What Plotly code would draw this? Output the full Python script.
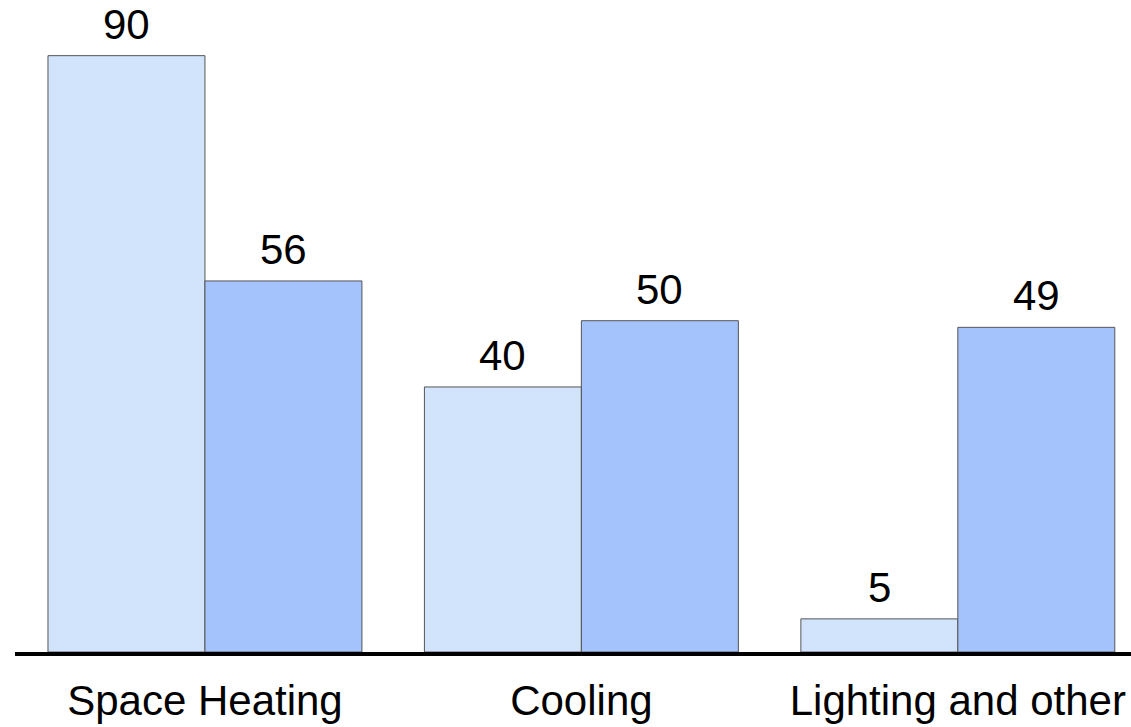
import plotly.graph_objects as go

categories = ["Space Heating", "Cooling", "Lighting and other"]
series_a = [90, 40, 5]
series_b = [56, 50, 49]

light = "#d2e4fc"
mid = "#a4c2fc"
outline = "#555555"
font_family = "Liberation Sans, Arial"

fig = go.Figure()
for vals, col in [(series_a, light), (series_b, mid)]:
    fig.add_trace(go.Bar(
        x=categories, y=vals,
        marker=dict(color=col, line=dict(color=outline, width=1)),
        cliponaxis=False,
    ))

half_bar_px = 78.5
for vals, shift in [(series_a, -half_bar_px), (series_b, half_bar_px)]:
    for c, v in zip(categories, vals):
        fig.add_annotation(
            x=c, y=v, xref="x", yref="y", text=str(v), showarrow=False,
            xshift=shift, yshift=6, yanchor="bottom",
            font=dict(family=font_family, size=42, color="black"),
        )

fig.update_layout(
    width=1131, height=727,
    margin=dict(l=15, r=0, t=0, b=75),
    barmode="group", bargap=0.166, bargroupgap=0,
    showlegend=False,
    plot_bgcolor="white", paper_bgcolor="white",
)
fig.update_xaxes(
    range=[-0.5046, 2.460],
    showline=True, linewidth=4, linecolor="black",
    showgrid=False, ticks="", ticklabelstandoff=9,
    tickfont=dict(family=font_family, size=42, color="black"),
)
fig.update_yaxes(range=[0, 98.4], visible=False, showgrid=False)

fig.write_html("out.html", config={"displayModeBar": False},
               post_script="document.body.style.margin='0';document.body.style.overflow='hidden';")
